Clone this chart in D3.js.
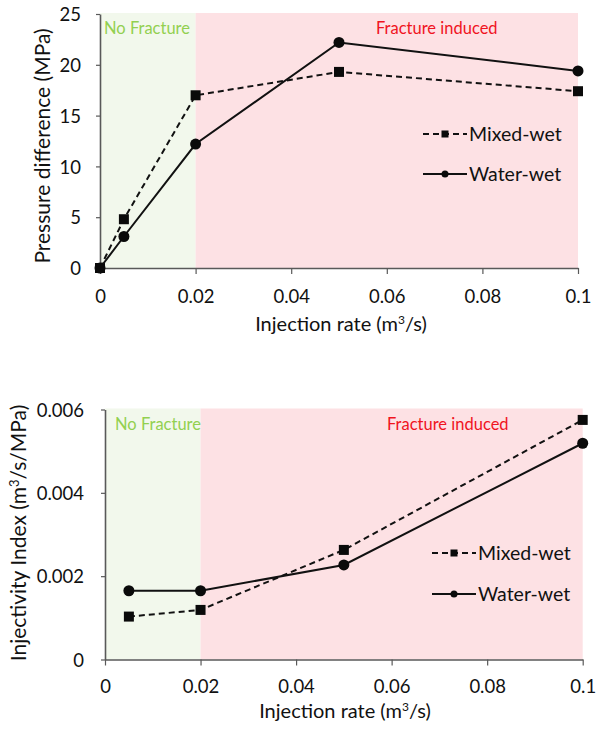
<!DOCTYPE html>
<html>
<head>
<meta charset="utf-8">
<script src="https://cdn.jsdelivr.net/npm/d3@7"></script>
<style>
  html, body { margin: 0; padding: 0; background: #fff; }
  svg { display: block; font-family: Lato, "Open Sans", sans-serif; }
</style>
</head>
<body>
<svg id="chart" width="598" height="734"></svg>
<script>
// ---------- data ----------
const seriesNames = ["Mixed-wet", "Water-wet"];

// Top chart: pressure difference (MPa)
const pressureRates = [0, 0.005, 0.02, 0.05, 0.1];
const pressureMixed = [0, 4.8, 17.0, 19.3, 17.4];
const pressureWater = [0, 3.1, 12.2, 22.2, 19.4];
const pressureTicksY = [0, 5, 10, 15, 20, 25];

// Bottom chart: injectivity index (m3/s/MPa)
const injectRates = [0.005, 0.02, 0.05, 0.1];
const injectMixed = [0.00103, 0.00119, 0.00263, 0.00575];
const injectWater = [0.00165, 0.00165, 0.00227, 0.00519];
const injectTicksY = [0, 0.002, 0.004, 0.006];

const rateTicksX = [0, 0.02, 0.04, 0.06, 0.08, 0.1];
const fractureThreshold = 0.02;
const zoneLabels = ["No Fracture", "Fracture induced"];

// ---------- drawing ----------
const svg = d3.select("#chart");

function drawPanel(cfg) {
  const x = d3.scaleLinear().domain([0, 0.1]).range([cfg.left, cfg.right]);
  const y = d3.scaleLinear().domain([0, cfg.yMax]).range([cfg.bottom, cfg.top]);
  const g = svg.append("g");

  // zone backgrounds
  g.append("rect")
    .attr("x", x(0)).attr("y", y(cfg.yMax) - 1)
    .attr("width", x(fractureThreshold) - x(0))
    .attr("height", y(0) - y(cfg.yMax) + 1)
    .attr("fill", "#f2f8ec");
  g.append("rect")
    .attr("x", x(fractureThreshold)).attr("y", y(cfg.yMax) - 1)
    .attr("width", x(0.1) - x(fractureThreshold))
    .attr("height", y(0) - y(cfg.yMax) + 1)
    .attr("fill", "#fde1e4");

  // zone labels
  g.append("text")
    .attr("x", x(0) + cfg.noFracDx).attr("y", y(cfg.yMax) + cfg.zoneDy)
    .attr("fill", "#92d050").attr("font-size", 16.5)
    .text(zoneLabels[0]);
  g.append("text")
    .attr("x", cfg.fracX).attr("y", y(cfg.yMax) + cfg.zoneDy)
    .attr("fill", "#f0141e").attr("font-size", 16.5)
    .text(zoneLabels[1]);

  // axes
  const xAxis = d3.axisBottom(x).tickValues(rateTicksX).tickSize(6).tickSizeOuter(0)
    .tickFormat(d => d === 0 ? "0" : d3.format("")(+d.toFixed(2)));
  const xg = g.append("g").attr("transform", `translate(0,${y(0)})`).call(xAxis);
  const yAxis = d3.axisLeft(y).tickValues(cfg.yTicks).tickSize(4).tickSizeOuter(0)
    .tickFormat(cfg.yFormat);
  const yg = g.append("g").attr("transform", `translate(${x(0)},0)`).call(yAxis);

  [xg, yg].forEach(a => {
    a.select(".domain").attr("stroke", "#595959").attr("stroke-width", 1.6);
    a.selectAll(".tick line").attr("stroke", "#595959").attr("stroke-width", 1.2);
    a.selectAll(".tick text").attr("fill", "#111")
      .attr("font-family", "Lato, sans-serif").attr("font-size", 18.5);
  });
  xg.selectAll(".tick text").attr("y", 0).attr("dy", 0)
    .attr("transform", `translate(0,${cfg.xTickBase - y(0)})`);
  yg.selectAll(".tick text").attr("x", -cfg.yTickGap).attr("dy", "0.36em");

  // x axis title
  const xt = g.append("text")
    .attr("x", cfg.xTitleX).attr("y", cfg.xTitleBase)
    .attr("text-anchor", "middle").attr("font-size", 20)
    .attr("fill", "#111");
  xt.append("tspan").text("Injection rate (m");
  xt.append("tspan").attr("dy", -7).attr("font-size", 12).text("3");
  xt.append("tspan").attr("dy", 7).text("/s)");

  // y axis title
  const yt = g.append("text")
    .attr("transform", `translate(${cfg.yTitleX},${cfg.yTitleY}) rotate(-90)`)
    .attr("text-anchor", "middle").attr("font-size", 21)
    .attr("fill", "#111");
  cfg.yTitleParts(yt);

  // series
  const series = [
    { name: seriesNames[0], xs: cfg.xs, ys: cfg.mixed, dash: "6,4", marker: "square" },
    { name: seriesNames[1], xs: cfg.xs, ys: cfg.water, dash: null, marker: "circle" }
  ];
  const line = d3.line().x(d => x(d[0])).y(d => y(d[1]));
  series.forEach(s => {
    const pts = s.xs.map((v, i) => [v, s.ys[i]]);
    g.append("path").datum(pts)
      .attr("d", line).attr("fill", "none").attr("stroke", "#111")
      .attr("stroke-width", 2).attr("stroke-dasharray", s.dash);
    pts.forEach(p => {
      if (s.marker === "square") {
        g.append("rect").attr("x", x(p[0]) - 5).attr("y", y(p[1]) - 5)
          .attr("width", 10).attr("height", 10).attr("fill", "#0a0a0a");
      } else {
        g.append("circle").attr("cx", x(p[0])).attr("cy", y(p[1])).attr("r", 5.5)
          .attr("fill", "#0a0a0a");
      }
    });
  });

  // legend
  series.forEach((s, i) => {
    const ly = cfg.legendY[i];
    g.append("line").attr("x1", cfg.legendX).attr("x2", cfg.legendX + 44)
      .attr("y1", ly).attr("y2", ly).attr("stroke", "#111").attr("stroke-width", 2)
      .attr("stroke-dasharray", s.dash);
    const cx = cfg.legendX + 22;
    if (s.marker === "square") {
      g.append("rect").attr("x", cx - 3.5).attr("y", ly - 3.5)
        .attr("width", 7).attr("height", 7).attr("fill", "#0a0a0a");
    } else {
      g.append("circle").attr("cx", cx).attr("cy", ly).attr("r", 3.5).attr("fill", "#0a0a0a");
    }
    g.append("text").attr("x", cfg.legendX + 46).attr("y", ly).attr("dy", "0.36em")
      .attr("font-size", 19.5).attr("fill", "#111").text(s.name);
  });
}

drawPanel({
  left: 100, right: 578, top: 14, bottom: 268, yMax: 25,
  yTicks: pressureTicksY, yFormat: d3.format("d"),
  xs: pressureRates, mixed: pressureMixed, water: pressureWater,
  noFracDx: 4, fracX: 376, zoneDy: 20,
  xTickBase: 303, yTickGap: 19,
  xTitleX: 341, xTitleBase: 331,
  yTitleX: 50, yTitleY: 146,
  yTitleParts: t => t.text("Pressure difference (MPa)"),
  legendX: 423, legendY: [134, 174]
});

drawPanel({
  left: 105, right: 582.7, top: 409.5, bottom: 659.5, yMax: 0.006,
  yTicks: injectTicksY, yFormat: d => d === 0 ? "0" : d3.format(".3f")(d),
  xs: injectRates, mixed: injectMixed, water: injectWater,
  noFracDx: 10, fracX: 387, zoneDy: 20,
  xTickBase: 693, yTickGap: 21,
  xTitleX: 345, xTitleBase: 718,
  yTitleX: 26, yTitleY: 533,
  yTitleParts: t => {
    t.append("tspan").text("Injectivity Index (m");
    t.append("tspan").attr("dy", -7).attr("font-size", 13).text("3");
    t.append("tspan").attr("dy", 7).text("/s/MPa)");
  },
  legendX: 432, legendY: [553, 594]
});
</script>
</body>
</html>
